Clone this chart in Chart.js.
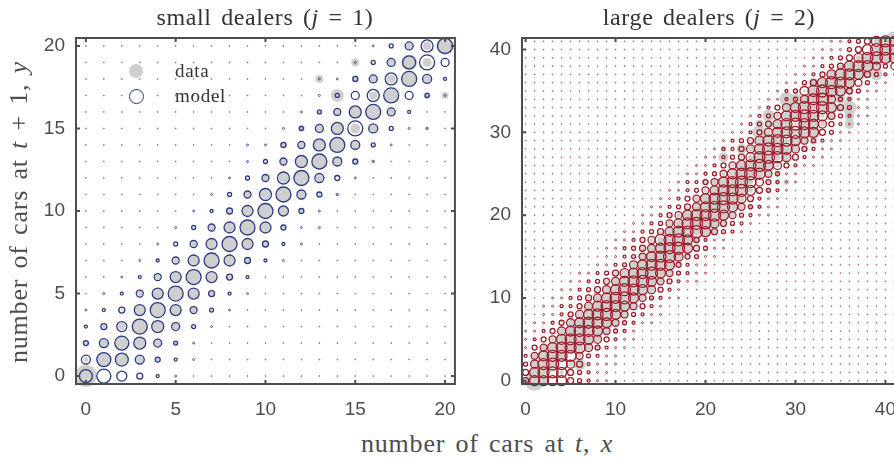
<!DOCTYPE html>
<html>
<head>
<meta charset="utf-8">
<title>cars</title>
<script src="https://cdn.jsdelivr.net/npm/chart.js@4"></script>
<style>
  html, body { margin: 0; padding: 0; background: #fff; width: 894px; height: 460px; overflow: hidden; }
  canvas { position: absolute; top: 0; }
  #chart_small { left: 0; }
  #chart_large { left: 470px; }
  .lbl { position: absolute; font-family: "Liberation Serif", serif; white-space: nowrap; color: #4d4d4d; transform: translate(-50%, -50%); }
  .ttl { color: #333; font-size: 24px; top: 17px; letter-spacing: 0.6px; word-spacing: 3px; }
  .axl { font-size: 26px; letter-spacing: 0.8px; word-spacing: 3px; }
  .leg { font-size: 19px; color: #333; transform: translate(0, -50%); letter-spacing: 0.7px; }
  .dot { position: absolute; border-radius: 50%; box-sizing: border-box; }
</style>
</head>
<body>
<canvas id="chart_small" width="470" height="420"></canvas>
<canvas id="chart_large" width="442" height="420"></canvas>
<div class="lbl ttl" style="left:265px">small dealers (<i>j</i> = 1)</div>
<div class="lbl ttl" style="left:709px">large dealers (<i>j</i> = 2)</div>
<div class="lbl axl" style="left:487px;top:444px">number of cars at <i>t</i>, <i>x</i></div>
<div class="lbl axl" style="left:19px;top:212px;transform:translate(-50%,-50%) rotate(-90deg)">number of cars at <i>t</i> + 1, <i>y</i></div>
<div class="dot" style="left:129px;top:64px;width:14px;height:14px;background:#cfcfcf"></div>
<div class="dot" style="left:129px;top:89px;width:15px;height:15px;border:1.3px solid #2b3a82;background:#fff"></div>
<div class="lbl leg" style="left:175px;top:71px">data</div>
<div class="lbl leg" style="left:175px;top:96px">model</div>
<script>
var smallTicksX = [0, 5, 10, 15, 20];
var smallTicksY = [0, 5, 10, 15, 20];
var largeTicksX = [0, 10, 20, 30, 40];
var largeTicksY = [0, 10, 20, 30, 40];

var smallModel = [
  [13,14,10,6,3,2,1,1,1,1,1,1,1,1,1,1,1,1,1,1,1],
  [9,14,13,9,5,3,2,1,1,1,1,1,1,1,1,1,1,1,1,1,1],
  [5,9,14,12,8,4,2,1,1,1,1,1,1,1,1,1,1,1,1,1,1],
  [3,6,10,15,12,8,4,2,1,1,1,1,1,1,1,1,1,1,1,1,1],
  [2,3,6,11,15,11,7,4,2,1,1,1,1,1,1,1,1,1,1,1,1],
  [1,2,3,7,11,15,11,6,3,2,1,1,1,1,1,1,1,1,1,1,1],
  [1,1,2,3,7,11,15,11,6,3,1,1,1,1,1,1,1,1,1,1,1],
  [1,1,1,2,3,7,11,15,11,6,3,2,1,1,1,1,1,1,1,1,1],
  [1,1,1,1,2,4,7,11,15,11,6,3,2,1,1,1,1,1,1,1,1],
  [1,1,1,1,1,2,4,7,11,15,11,5,2,2,1,1,1,1,1,1,1],
  [1,1,1,1,1,1,2,3,6,11,15,10,5,2,1,1,1,1,1,1,1],
  [1,1,1,1,1,1,1,2,4,7,12,15,9,5,2,1,1,1,1,1,1],
  [1,1,1,1,1,1,1,1,2,4,7,12,15,9,5,2,1,1,1,1,1],
  [1,1,1,1,1,1,1,1,1,2,4,7,12,15,9,5,2,1,1,1,1],
  [1,1,1,1,1,1,1,1,1,2,2,5,7,12,15,9,4,2,1,1,1],
  [1,1,1,1,1,1,1,1,1,1,1,2,4,8,12,15,9,4,2,2,1],
  [1,1,1,1,1,1,1,1,1,1,1,1,2,4,7,12,15,8,3,1,1],
  [1,1,1,1,1,1,1,1,1,1,1,1,1,2,4,8,12,15,8,4,2],
  [1,1,1,1,1,1,1,1,1,1,1,1,1,2,2,5,8,12,15,9,3],
  [1,1,1,1,1,1,1,1,1,1,1,1,1,1,1,2,4,8,13,15,8],
  [1,1,1,1,1,1,1,1,1,1,1,1,1,1,1,1,2,4,8,12,15]
];
var smallData = [
  [22,1,0,0,0,0,0,0,0,0,0,0,0,0,0,0,0,0,0,0,0],
  [5,15,12,8,4,0,0,0,0,0,0,0,0,0,0,0,0,0,0,0,0],
  [4,8,14,11,7,3,0,0,0,0,0,0,0,0,0,0,0,0,0,0,0],
  [0,4,7,16,11,7,2,0,0,0,0,0,0,0,0,0,0,0,0,0,0],
  [0,0,2,10,14,11,6,2,0,0,0,0,0,0,0,0,0,0,0,0,0],
  [0,0,0,5,11,14,10,5,2,0,0,0,0,0,0,0,0,0,0,0,0],
  [0,0,0,0,5,10,14,10,5,0,0,0,0,0,0,0,0,0,0,0,0],
  [0,0,0,0,0,5,10,14,10,5,0,0,0,0,0,0,0,0,0,0,0],
  [0,0,0,0,0,0,5,10,14,10,5,0,0,0,0,0,0,0,0,0,0],
  [0,0,0,0,0,0,0,6,10,14,10,3,0,0,0,0,0,0,0,0,0],
  [0,0,0,0,0,0,0,0,5,10,14,9,4,0,0,0,0,0,0,0,0],
  [0,0,0,0,0,0,0,0,0,6,10,14,8,3,4,0,0,0,0,0,0],
  [0,0,0,0,0,0,0,0,0,0,6,10,14,7,1,0,0,0,0,0,0],
  [0,0,0,0,0,0,0,0,0,0,0,7,11,14,9,6,4,0,0,0,0],
  [0,0,0,0,0,0,0,0,0,0,0,7,7,12,15,9,2,0,0,0,0],
  [0,0,0,0,0,0,0,0,0,0,0,0,7,8,12,10,9,0,0,4,0],
  [0,0,0,0,0,0,0,0,0,0,0,0,0,4,7,12,15,8,0,0,0],
  [0,0,0,0,0,0,0,0,0,0,0,0,0,0,13,0,8,14,0,7,7],
  [0,0,0,0,0,0,0,0,0,0,0,0,0,8,0,7,8,9,14,8,0],
  [0,0,0,0,0,0,0,0,0,0,0,0,0,0,0,8,0,7,16,9,0],
  [0,0,0,0,0,0,0,0,0,0,0,0,0,0,0,0,0,0,7,8,18]
];

// large dealers: only the band round the diagonal is listed, everything else is a faint dot
var largeModelFrom = [0,0,0,0,0,0,0,0,1,2,3,4,5,6,7,8,9,10,11,12,13,14,15,16,17,18,19,20,21,22,23,24,25,26,27,28,29,30,31,32,33,34];
var largeModel = [
  [6,10,10,10,10,6,4,3,2,2],
  [6,10,11,11,10,6,4,3,2,2],
  [4,8,11,12,11,8,6,3,2,2,2],
  [3,7,10,11,11,11,7,4,3,2,2],
  [2,5,7,10,11,11,11,8,5,3,2,2],
  [2,3,5,7,10,11,11,10,8,5,3,2,2],
  [2,2,3,5,8,10,11,11,10,7,4,3,2],
  [1,2,2,3,5,8,10,11,11,10,7,4,3,2,2],
  [1,2,2,3,5,8,10,11,12,10,7,4,3,2,2],
  [2,2,3,3,5,8,10,11,11,10,7,5,3,2,1],
  [2,2,3,4,6,8,10,11,12,10,7,4,3,2,2],
  [2,2,3,4,6,8,10,12,11,10,8,5,3,2,1],
  [2,2,3,4,6,8,10,11,12,10,7,5,3,2,2],
  [2,2,3,4,6,9,10,11,12,10,7,4,3,2,2],
  [1,2,2,3,4,8,10,11,11,10,5,3,2,2,1],
  [1,2,2,3,4,7,10,11,12,9,5,4,2,2,1],
  [2,2,3,4,6,8,10,11,12,10,6,4,2,2,1],
  [2,2,3,5,7,11,11,12,10,5,3,2,2,1,1],
  [2,2,3,4,6,9,11,11,12,10,6,4,3,2,1],
  [2,2,3,4,7,9,11,12,11,9,6,4,3,2,1],
  [2,2,3,5,7,10,11,11,12,10,7,4,3,2,2],
  [2,2,3,4,6,8,10,11,12,10,7,4,3,2,2],
  [2,2,3,5,7,10,11,12,11,9,6,3,2,2,1],
  [2,2,3,4,7,9,11,11,12,10,6,4,3,2,1],
  [2,3,3,5,7,10,11,12,11,8,5,3,2,2,1],
  [2,2,3,4,7,10,11,12,11,7,4,2,2,1,1],
  [2,2,3,5,7,10,11,12,10,8,5,3,2,2,1],
  [2,2,3,4,6,9,11,12,11,9,6,3,2,2,1],
  [2,3,3,5,8,10,12,11,11,8,5,3,2,2,1],
  [2,3,4,6,9,11,12,11,10,7,4,3,2,2,1],
  [2,2,3,5,8,10,11,12,11,10,6,4,2,2,1],
  [2,3,4,6,9,11,12,11,10,8,5,3,2,2,1],
  [2,3,4,7,10,11,12,11,10,7,4,3,2,2,1],
  [2,3,5,8,10,12,11,12,10,6,4,2,2,1,1],
  [2,2,3,4,8,11,12,8,4,3,2,2,1,1,1],
  [2,3,4,9,11,12,11,10,6,4,2,2,1,1],
  [2,2,4,6,10,12,11,10,7,4,2,2,1],
  [2,2,3,5,9,11,11,10,6,4,3,2],
  [2,2,3,4,6,10,11,11,8,4,7],
  [2,2,3,4,6,9,11,12,11,10],
  [2,2,2,4,6,10,12,11,10],
  [2,2,3,4,6,10,11,10]
];

var largeDataFrom = [0,0,0,0,0,1,2,3,4,5,6,7,8,9,10,11,12,13,14,15,16,17,18,19,20,21,22,23,24,25,26,27,28,29,30,31,32,33,34,35,36,37];
var largeData = [
  [0,20,10,0,0,0],
  [0,10,10,0,4,0,0],
  [0,8,12,14,0,4,12],
  [0,6,12,10,10,0,4],
  [0,0,6,8,10,10,8,6,6],
  [0,0,4,8,10,10,9,6,0],
  [0,0,6,9,10,10,9,6,2],
  [0,2,6,9,10,10,9,6,2],
  [0,2,6,9,10,10,9,6,0],
  [0,2,7,9,10,10,9,7,2],
  [0,3,7,9,10,10,9,6,3],
  [2,3,7,9,10,10,9,6,2],
  [0,3,6,9,10,10,9,6,3],
  [0,3,7,9,10,10,9,6,3],
  [0,2,6,9,10,10,9,4,0],
  [0,2,6,9,10,9,7,3,2],
  [0,3,7,9,10,10,8,3,0],
  [2,4,7,10,10,10,8,3,0],
  [0,3,8,10,10,8,9,4,2],
  [0,5,7,9,10,10,8,4,0],
  [3,4,9,9,10,10,9,5,2],
  [0,3,7,9,10,10,8,5,0],
  [0,5,8,10,10,8,6,2,0],
  [0,4,8,10,10,10,5,0,3],
  [2,5,9,9,10,5,0,3,0],
  [0,4,7,10,10,8,5,4,0],
  [0,4,8,8,10,10,4,0,0],
  [0,3,5,9,10,6,8,2,0],
  [0,6,9,7,10,9,6,2,0],
  [3,7,10,10,5,9,9,4,0],
  [2,5,8,10,7,10,8,0,0],
  [5,8,9,3,10,10,5,0,0],
  [4,7,10,10,8,4,9,0,0],
  [6,9,10,5,10,10,6,0,0],
  [5,8,10,10,6,10,7,0,0],
  [3,8,10,9,10,5,0,0,0],
  [4,8,10,10,9,0,0,0,0],
  [2,6,10,10,10,7,0,0,0],
  [0,4,8,10,10,10,0,0,0],
  [0,0,5,10,10,10,8],
  [0,0,0,8,14,16],
  [0,0,6,12,20]
];
// the ones away from the band
var largeExtraX = [27,26,26,29,30,32,34,39,36,36,36,32,32,31,22,22,24,28,28,29,20,27,25,26];
var largeExtraY = [32,31,30,34,34,36,37,37,33,32,31,30,29,28,28,27,28,25,24,24,24,23,21,21];
var largeExtraV = [12,9,14,14,12,10,10,12,14,10,10,14,8,6,6,10,10,6,6,6,6,6,6,4];

var rPerValue = 0.5;

function gridPoints(rows) {
  var pts = [];
  rows.forEach(function (row, y) {
    row.forEach(function (v, x) {
      if (v > 0) pts.push({ x: x, y: y, r: v * rPerValue });
    });
  });
  return pts;
}

function largeModelPoints() {
  var pts = [];
  for (var y = 0; y < largeModel.length; y++) {
    for (var x = 0; x < largeModel.length; x++) {
      var v = largeModel[y][x - largeModelFrom[y]] || 1;
      pts.push({ x: x, y: y, r: v * rPerValue });
    }
  }
  return pts;
}

function largeDataPoints() {
  var pts = [];
  largeData.forEach(function (row, y) {
    row.forEach(function (v, i) {
      if (v > 0) pts.push({ x: largeDataFrom[y] + i, y: y, r: v * rPerValue });
    });
  });
  largeExtraV.forEach(function (v, i) {
    pts.push({ x: largeExtraX[i], y: largeExtraY[i], r: v * rPerValue });
  });
  return pts;
}

// box with inward ticks on all four sides
var boxPlugin = {
  id: "box",
  afterDatasetsDraw: function (chart) {
    var c = chart.ctx, a = chart.chartArea;
    c.save();
    c.strokeStyle = "#4d4d4d";
    c.lineWidth = 2;
    c.strokeRect(a.left, a.top, a.right - a.left, a.bottom - a.top);
    chart.scales.x.ticks.forEach(function (t) {
      var px = chart.scales.x.getPixelForValue(t.value);
      c.beginPath();
      c.moveTo(px, a.bottom); c.lineTo(px, a.bottom - 4);
      c.moveTo(px, a.top); c.lineTo(px, a.top + 4);
      c.stroke();
    });
    chart.scales.y.ticks.forEach(function (t) {
      var py = chart.scales.y.getPixelForValue(t.value);
      c.beginPath();
      c.moveTo(a.left, py); c.lineTo(a.left + 4, py);
      c.moveTo(a.right, py); c.lineTo(a.right - 4, py);
      c.stroke();
    });
    c.restore();
  },
};

function make_axis(range, step, size, isX) {
  return {
    type: "linear",
    min: range[0],
    max: range[1],
    grid: { display: false, drawTicks: false },
    border: { display: false },
    afterFit: function (s) {
      if (isX) s.height = size; else s.width = size;
    },
    ticks: {
      stepSize: step,
      includeBounds: false,
      autoSkip: false,
      maxRotation: 0,
      padding: isX ? 14 : 11,
      color: "#4d4d4d",
      font: { family: "'Liberation Sans', sans-serif", size: 19 },
    },
  };
}

function ring_width(ctx) {
  if (!ctx.raw) return 1.3;
  if (ctx.raw.r < 0.8) return 0.6;
  if (ctx.raw.r < 1.3) return 0.8;
  return 1.3;
}

function make_chart(id, modelPts, dataPts, colour, xr, yr, step, axisLeft, padRight) {
  return new Chart(document.getElementById(id).getContext("2d"), {
    type: "bubble",
    data: {
      datasets: [
        {
          label: "model",
          data: modelPts,
          order: 1,
          clip: false,
          backgroundColor: "rgba(0,0,0,0)",
          borderColor: colour,
          borderWidth: ring_width,
        },
        {
          label: "data",
          data: dataPts,
          order: 2,
          clip: false,
          backgroundColor: "#cfcfcf",
          borderWidth: 0,
        },
      ],
    },
    options: {
      responsive: false,
      animation: false,
      events: [],
      layout: { padding: { top: 38, right: padRight, bottom: 0, left: 0 } },
      plugins: { legend: { display: false }, tooltip: { enabled: false } },
      scales: {
        x: make_axis(xr, step, 36, true),
        y: make_axis(yr, step, axisLeft, false),
      },
    },
    plugins: [boxPlugin],
  });
}

make_chart("chart_small", gridPoints(smallModel), gridPoints(smallData), "#2b3a82",
  [-0.55, 20.55], [-0.48, 20.48], 5, 76, 14);
make_chart("chart_large", largeModelPoints(), largeDataPoints(), "#9c1c28",
  [-0.4, 41.4], [-0.4, 41.4], 10, 52, 14);
</script>
</body>
</html>
